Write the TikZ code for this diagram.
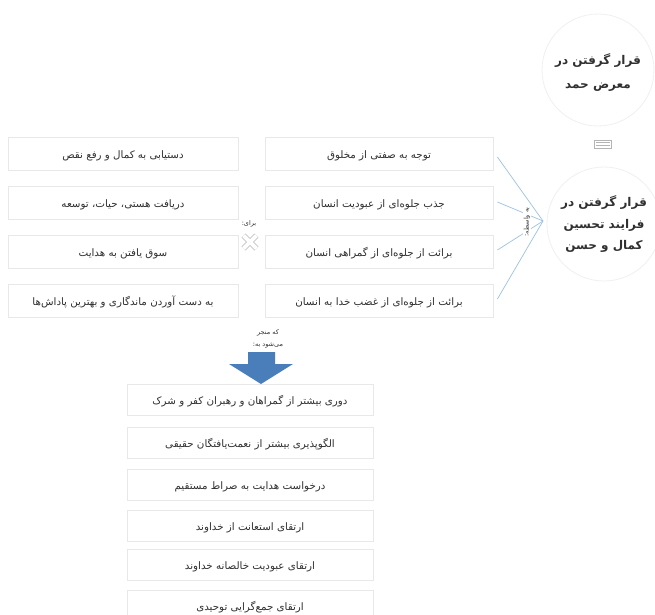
\documentclass[tikz,border=0pt]{standalone}
\usepackage{fontspec}
\usetikzlibrary{calc}
\newfontfamily\fa[Script=Arabic]{DejaVu Sans}
\TeXXeTstate=1
\newcommand{\rl}[1]{\beginR #1\endR}
\definecolor{boxline}{HTML}{E8E8E8}
\definecolor{circline}{HTML}{F0F0F0}
\definecolor{txt}{HTML}{303030}
\definecolor{conn}{HTML}{9CC2E5}
\definecolor{arrowblue}{HTML}{4A7EBB}
\definecolor{icon}{HTML}{B4B4B4}
\begin{document}
\begin{tikzpicture}[x=1pt,y=-1pt,
  box/.style={draw=boxline, fill=white, line width=0.8pt, minimum height=33pt, inner sep=0pt, text height=9pt, text depth=0pt, text=txt, font=\fa\fontsize{10.3}{12}\selectfont},
  lbox/.style={box, minimum width=230pt},
  mbox/.style={box, minimum width=228pt},
  bbox/.style={box, minimum width=246pt, minimum height=31pt},
  circ/.style={circle, draw=circline, fill=white, line width=0.8pt, inner sep=0pt, text=txt, align=center, font=\fa\bfseries\fontsize{12}{21.5}\selectfont},
  small/.style={text=txt, inner sep=1pt, align=center, font=\fa\fontsize{6.5}{11.5}\selectfont},
  conn/.style={draw=conn, line width=0.7pt}]
\useasboundingbox (0,0) rectangle (655,614);
\fill[white] (0,0) rectangle (655,614);

% circles
\node[circ, minimum size=112pt] (c1) at (598,70) {};
\node[text=txt, align=center, font=\fa\bfseries\fontsize{12}{24}\selectfont] (c1t) at (c1.center) [yshift=-3pt] {\rl{قرار گرفتن در}\\\rl{معرض حمد}};
\node[circ, minimum size=114pt] (c2) at (604,224) {\rl{قرار گرفتن در}\\\rl{فرایند تحسین}\\\rl{کمال و حسن}};

% small icon between circles
\node[draw=icon, fill=white, line width=0.6pt, minimum width=17pt, minimum height=8pt, inner sep=0pt] (ic) at (603,144) {};
\draw[icon, line width=0.5pt] ([xshift=2pt,yshift=-1.5pt]ic.west) -- ([xshift=-2pt,yshift=-1.5pt]ic.east);
\draw[icon, line width=0.5pt] ([xshift=2pt,yshift=1.5pt]ic.west) -- ([xshift=-2pt,yshift=1.5pt]ic.east);

% middle column
\node[mbox] (m1) at (379,154) {\rl{توجه به صفتی از مخلوق}};
\node[mbox] (m2) at (379,203) {\rl{جذب جلوه‌ای از عبودیت انسان}};
\node[mbox] (m3) at (379,252) {\rl{برائت از جلوه‌ای از گمراهی انسان}};
\node[mbox] (m4) at (379,301) {\rl{برائت از جلوه‌ای از غضب خدا به انسان}};

% left column
\node[lbox] (l1) at (123,154) {\rl{دستیابی به کمال و رفع نقص}};
\node[lbox] (l2) at (123,203) {\rl{دریافت هستی، حیات، توسعه}};
\node[lbox] (l3) at (123,252) {\rl{سوق یافتن به هدایت}};
\node[lbox] (l4) at (123,301) {\rl{به دست آوردن ماندگاری و بهترین پاداش‌ها}};

% connectors to circle
\coordinate (hub) at (543,221);
\draw[conn] ([xshift=4pt,yshift=-3pt]m1.east) -- (hub);
\draw[conn] ([xshift=4pt,yshift=1pt]m2.east) -- (hub);
\draw[conn] ([xshift=4pt,yshift=2pt]m3.east) -- (hub);
\draw[conn] ([xshift=4pt,yshift=2pt]m4.east) -- (hub);
\node[small, fill=white, rotate=90] (via) at (527,222) {\rl{به واسطه:}};

% "for:" label and X icon
\node[small] (for) at (249,224) {\rl{برای:}};
\coordinate (xc) at (250,242);
\draw[icon, line width=5.6pt] ($(xc)+(-6.5,-6.5)$) -- ($(xc)+(6.5,6.5)$) ($(xc)+(-6.5,6.5)$) -- ($(xc)+(6.5,-6.5)$);
\draw[white, line width=4pt] ($(xc)+(-6.5,-6.5)$) -- ($(xc)+(6.5,6.5)$) ($(xc)+(-6.5,6.5)$) -- ($(xc)+(6.5,-6.5)$);

% leads to
\node[small] (leads) at (268,339) {\rl{که منجر}\\\rl{می‌شود به:}};

% bottom column
\node[bbox] (b1) at (250,400) {\rl{دوری بیشتر از گمراهان و رهبران کفر و شرک}};
\node[bbox] (b2) at (250,443) {\rl{الگوپذیری بیشتر از نعمت‌یافتگان حقیقی}};
\node[bbox] (b3) at (250,485) {\rl{درخواست هدایت به صراط مستقیم}};
\node[bbox] (b4) at (250,526) {\rl{ارتقای استعانت از خداوند}};
\node[bbox] (b5) at (250,565) {\rl{ارتقای عبودیت خالصانه خداوند}};
\node[bbox] (b6) at (250,606) {\rl{ارتقای جمع‌گرایی توحیدی}};

% block arrow
\fill[arrowblue] (248,352) -- (275,352) -- (275,364) -- (293,364) -- (261,384) -- (229,364) -- (248,364) -- cycle;
\end{tikzpicture}
\end{document}
